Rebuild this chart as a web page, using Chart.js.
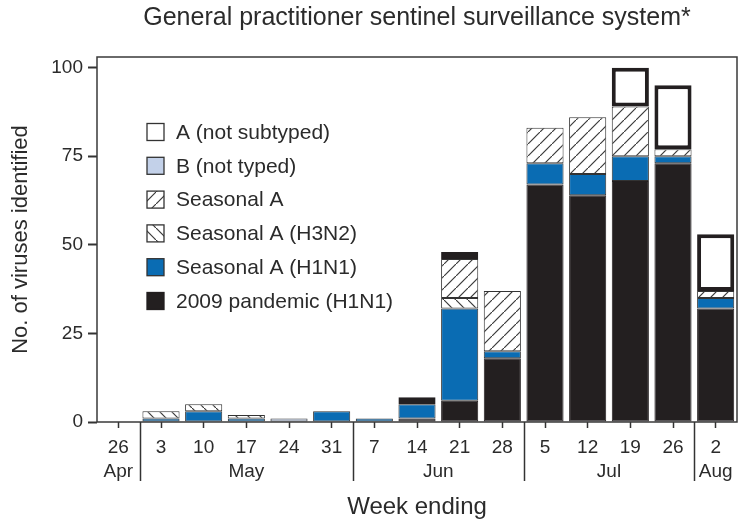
<!DOCTYPE html>
<html>
<head>
<meta charset="utf-8">
<title>General practitioner sentinel surveillance system</title>
<script src="https://cdn.jsdelivr.net/npm/chart.js@4.4.1/dist/chart.umd.min.js"></script>
<style>
  body { margin: 0; background: #fff; }
  #wrap { width: 740px; height: 519px; }
</style>
</head>
<body>
<div id="wrap"><canvas id="virusChart" width="740" height="519"></canvas></div>
<script>
// semaines (jour) + mois
const weeks = ['26', '3', '10', '17', '24', '31', '7', '14', '21', '28', '5', '12', '19', '26', '2'];
const monthNames = ['Apr', 'May', 'Jun', 'Jul', 'Aug'];
const monthOfWeek = [0, 1, 1, 1, 1, 1, 2, 2, 2, 2, 3, 3, 3, 3, 4];

// valeurs
const pandemicH1N1 = [0, 0, 0, 0, 0, 0, 0, 1, 6, 18, 67, 64, 68, 73, 32];
const seasonalH1N1 = [0, 1, 3, 1, 0, 3, 1, 4, 26, 2, 6, 6, 7, 2, 3];
const seasonalH3N2 = [0, 2, 2, 1, 0, 0, 0, 0, 3, 0, 0, 0, 0, 0, 0];
const seasonalA    = [0, 0, 0, 0, 0, 0, 0, 0, 11, 17, 10, 16, 14, 2, 2];
const bNotTyped    = [0, 0, 0, 0, 1, 0, 0, 0, 0, 0, 0, 0, 0, 0, 0];
const aNotSubtyped = [0, 0, 0, 0, 0, 0, 0, 2, 2, 0, 0, 0, 11, 18, 16];

const yTicks = [0, 25, 50, 75, 100];

const FONT = "'Liberation Sans', Arial, sans-serif";
const TXT = '#2b2b2b';
const LINE = '#333';

// hachures
function hatch(dir) {
    const c = document.createElement('canvas');
    c.width = 12; c.height = 12;
    const g = c.getContext('2d');
    g.fillStyle = '#fff';
    g.fillRect(0, 0, 12, 12);
    g.strokeStyle = '#3a3a3a';
    g.lineWidth = 1.2;
    g.beginPath();
    if (dir === '/') {
        g.moveTo(-2, 14); g.lineTo(14, -2);
    } else {
        g.moveTo(-2, -2); g.lineTo(14, 14);
    }
    g.stroke();
    return g.createPattern(c, 'repeat');
}
const slashPattern = hatch('/');
const backPattern = hatch('\\');

function ds(label, data, bg, bw, bc) {
    return {
        label: label,
        data: data,
        backgroundColor: bg,
        borderColor: bc || LINE,
        borderWidth: bw,
        borderSkipped: false,
        barPercentage: 0.87,
        categoryPercentage: 1.0
    };
}

const datasets = [
    ds('2009 pandemic (H1N1)', pandemicH1N1, '#231f20', 1, '#231f20'),
    ds('Seasonal A (H1N1)', seasonalH1N1, '#0a6cb3', 1),
    ds('Seasonal A (H3N2)', seasonalH3N2, backPattern, 1),
    ds('Seasonal A', seasonalA, slashPattern, 1),
    ds('B (not typed)', bNotTyped, '#c3d1e9', 1),
    ds('A (not subtyped)', aNotSubtyped, '#ffffff', 4, '#231f20')
];

const extras = {
    id: 'extras',
    beforeDatasetsDraw(chart) {
        const a = chart.chartArea;
        const ctx = chart.ctx;
        ctx.save();
        ctx.strokeStyle = '#3a3a3a';
        ctx.lineWidth = 1.5;
        ctx.strokeRect(a.left, a.top, a.right - a.left, a.bottom - a.top);
        ctx.restore();
    },
    afterDraw(chart) {
        const ctx = chart.ctx;
        const x = chart.scales.x;
        const a = chart.chartArea;
        ctx.save();
        // mois + séparateurs
        ctx.font = '19px ' + FONT;
        ctx.fillStyle = TXT;
        ctx.textAlign = 'center';
        ctx.textBaseline = 'middle';
        monthNames.forEach((m, mi) => {
            const idx = [];
            monthOfWeek.forEach((v, i) => { if (v === mi) idx.push(i); });
            const x0 = x.getPixelForValue(idx[0]);
            const x1 = x.getPixelForValue(idx[idx.length - 1]);
            ctx.fillText(m, (x0 + x1) / 2, 472);
        });
        ctx.strokeStyle = LINE;
        ctx.lineWidth = 1.5;
        for (let i = 1; i < weeks.length; i++) {
            if (monthOfWeek[i] !== monthOfWeek[i - 1]) {
                const sx = Math.round((x.getPixelForValue(i - 1) + x.getPixelForValue(i)) / 2) + 0.5;
                ctx.beginPath();
                ctx.moveTo(sx, a.bottom);
                ctx.lineTo(sx, 481);
                ctx.stroke();
            }
        }
        // légende
        const order = chart.data.datasets.slice().reverse();
        ctx.font = '21px ' + FONT;
        ctx.textAlign = 'left';
        order.forEach((d, i) => {
            const cy = 132 + i * 33.8;
            ctx.fillStyle = d.label === 'A (not subtyped)' ? '#fff' : d.backgroundColor;
            ctx.fillRect(147, cy - 8.5, 17, 17);
            ctx.strokeStyle = d.label === '2009 pandemic (H1N1)' ? '#231f20' : LINE;
            ctx.lineWidth = 1.3;
            ctx.strokeRect(147, cy - 8.5, 17, 17);
            ctx.fillStyle = TXT;
            ctx.fillText(d.label, 176, cy + 1);
        });
        ctx.restore();
    }
};

const ctx = document.getElementById('virusChart').getContext('2d');
const virusChart = new Chart(ctx, {
    type: 'bar',
    data: { labels: weeks, datasets: datasets },
    plugins: [extras],
    options: {
        responsive: false,
        animation: false,
        layout: { padding: { left: 0, right: 3, top: 0, bottom: 0 } },
        plugins: {
            legend: { display: false },
            tooltip: { enabled: false },
            title: {
                display: true,
                fullSize: false,
                text: 'General practitioner sentinel surveillance system*',
                color: TXT,
                font: { family: FONT, size: 25, weight: 'normal', lineHeight: 1.2 },
                padding: { top: 3, bottom: 24 }
            }
        },
        scales: {
            x: {
                stacked: true,
                afterFit: (s) => { s.height = 97; },
                grid: { display: true, drawOnChartArea: false, offset: false, tickLength: 6, tickWidth: 1.5, tickColor: LINE },
                border: { display: false },
                ticks: { color: TXT, font: { family: FONT, size: 19 }, padding: 8, maxRotation: 0, autoSkip: false },
                title: {
                    display: true,
                    text: 'Week ending',
                    color: TXT,
                    font: { family: FONT, size: 24, lineHeight: 1 },
                    padding: { top: 0, bottom: 0 }
                }
            },
            y: {
                stacked: true,
                min: 0,
                max: 103,
                afterFit: (s) => { s.width = 97; },
                afterBuildTicks: (s) => { s.ticks = yTicks.map(v => ({ value: v })); },
                grid: { display: true, drawOnChartArea: false, tickLength: 9, tickWidth: 2, tickColor: LINE },
                border: { display: false },
                ticks: { color: TXT, font: { family: FONT, size: 19 }, padding: 5 },
                title: {
                    display: true,
                    text: 'No. of viruses identified',
                    color: TXT,
                    font: { family: FONT, size: 22, lineHeight: 1.2 },
                    padding: { top: 8, bottom: 0 }
                }
            }
        }
    }
});
</script>
</body>
</html>
